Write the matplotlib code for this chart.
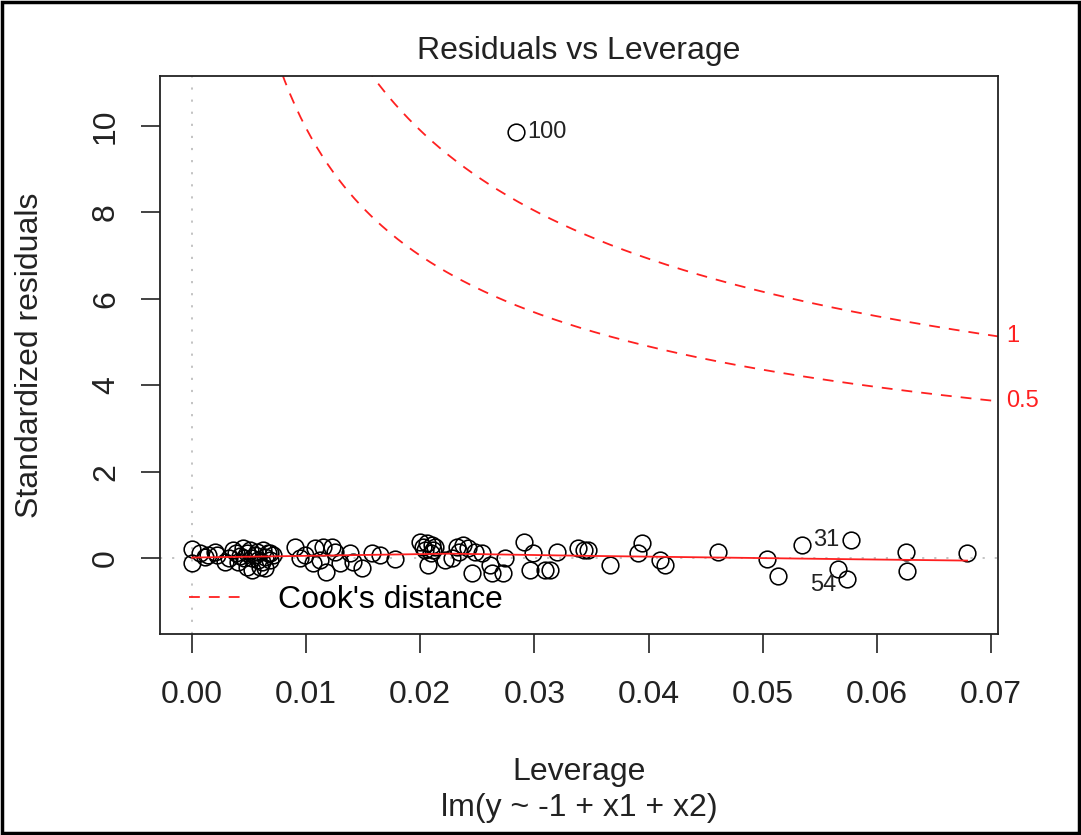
import numpy as np
import matplotlib
matplotlib.use("Agg")
import matplotlib.pyplot as plt
from matplotlib.patches import Rectangle

plt.rcParams['font.family'] = ['Liberation Sans', 'DejaVu Sans']

# Leverage (hat values) and standardized residuals of the fitted model
leverage = [
    0.0000, 0.0000, 0.0011, 0.0014, 0.0020, 0.0022, 0.0029, 0.0032, 0.0036, 0.0039,
    0.0040, 0.0045, 0.0048, 0.0048, 0.0051, 0.0053, 0.0053, 0.0057, 0.0058, 0.0060,
    0.0062, 0.0064, 0.0064, 0.0067, 0.0068, 0.0071, 0.0090, 0.0099, 0.0106, 0.0108,
    0.0112, 0.0115, 0.0117, 0.0123, 0.0125, 0.0130, 0.0138, 0.0141, 0.0149, 0.0158,
    0.0165, 0.0178, 0.0200, 0.0206, 0.0210, 0.0202, 0.0211, 0.0207, 0.0209, 0.0222,
    0.0228, 0.0232, 0.0237, 0.0242, 0.0248, 0.0254, 0.0245, 0.0261, 0.0263, 0.0272,
    0.0274, 0.0291, 0.0299, 0.0296, 0.0309, 0.0314, 0.0320, 0.0338, 0.0343, 0.0347,
    0.0366, 0.0394, 0.0391, 0.0410, 0.0414, 0.0461, 0.0504, 0.0513, 0.0534, 0.0566,
    0.0574, 0.0577, 0.0625, 0.0626, 0.0679, 0.0284, 0.0046, 0.0055, 0.0061, 0.0068,
    0.0042, 0.0204, 0.0213, 0.0007, 0.0234, 0.0095,
]
std_resid = [
    0.21, -0.12, 0.02, 0.07, 0.14, 0.07, -0.09, 0.00, 0.19, 0.12,
    -0.09, 0.23, 0.12, -0.21, 0.19, 0.00, -0.28, 0.14, -0.05, -0.21,
    0.19, 0.02, -0.23, 0.12, -0.05, 0.07, 0.25, 0.07, -0.12, 0.23,
    -0.05, 0.25, -0.32, 0.25, 0.14, -0.12, 0.12, -0.09, -0.23, 0.12,
    0.07, -0.02, 0.37, 0.35, 0.30, 0.25, 0.19, -0.16, 0.12, -0.05,
    0.00, 0.25, 0.30, 0.23, 0.14, 0.12, -0.35, -0.16, -0.35, -0.35,
    0.00, 0.37, 0.12, -0.28, -0.28, -0.28, 0.14, 0.23, 0.19, 0.19,
    -0.16, 0.35, 0.12, -0.05, -0.16, 0.14, -0.02, -0.42, 0.30, -0.25,
    -0.49, 0.42, 0.14, -0.30, 0.12, 9.86, 0.00, 0.07, -0.09, 0.12,
    0.05, 0.19, 0.25, 0.12, 0.14, 0.00,
]

# Observations flagged by id: (label, leverage, residual)
flag_ids = ["100", "31", "54"]
flag_lev = [0.0284, 0.0577, 0.0574]
flag_res = [9.86, 0.42, -0.49]

# Smoothed trend of residuals over leverage
smooth_lev = [0.0000, 0.0100, 0.0226, 0.0344, 0.0463, 0.0581, 0.0679]
smooth_res = [0.01, 0.05, 0.10, 0.05, 0.01, -0.03, -0.06]

# Cook's distance contour levels, number of model parameters
cook_levels = [0.5, 1.0]
n_params = 2

x_ticks = [0.00, 0.01, 0.02, 0.03, 0.04, 0.05, 0.06, 0.07]
x_ticklabels = ["0.00", "0.01", "0.02", "0.03", "0.04", "0.05", "0.06", "0.07"]
y_ticks = [0, 2, 4, 6, 8, 10]
y_ticklabels = ["0", "2", "4", "6", "8", "10"]

W, H = 1081, 835
fig = plt.figure(figsize=(W / 100, H / 100), dpi=100)
fig.patch.set_facecolor("white")

L, R, B, T = 160, 998, 634, 76
ax = fig.add_axes([L / W, 1 - B / H, (R - L) / W, (B - T) / H])
xlim = (-0.0028, 0.0706)
ylim = (-1.76, 11.16)
ax.set_xlim(*xlim)
ax.set_ylim(*ylim)

FS = 23
RED = "#FF2020"
DASH = (0, (6, 5))

# reference lines at zero
ax.axhline(0, color="#BEBEBE", lw=1.3, ls=(0, (1.2, 5.5)), zorder=1)
ax.axvline(0, color="#BEBEBE", lw=1.3, ls=(0, (1.2, 5.5)), zorder=1)

# points
ax.plot(leverage, std_resid, "o", mfc="none", mec="black", ms=12, mew=1.15,
        zorder=3, clip_on=False)

# smoother
ax.plot(smooth_lev, smooth_res, color=RED, lw=1.3, zorder=4)

# Cook's distance contours
hh = np.linspace(min(leverage) + 1e-4, xlim[1], 300)
for lvl in cook_levels:
    cl = np.sqrt(lvl * n_params * (1 - hh) / hh)
    ax.plot(hh, cl, color=RED, lw=1.3, ls=DASH, zorder=2)
    ax.plot(hh, -cl, color=RED, lw=1.3, ls=DASH, zorder=2)
    yr = np.sqrt(lvl * n_params * (1 - xlim[1]) / xlim[1])
    ax.annotate("%g" % lvl, (xlim[1], yr), xytext=(6, 0), textcoords="offset points",
                color=RED, fontsize=17, ha="left", va="center",
                annotation_clip=False)

# id labels
for lab, lx, ly in zip(flag_ids, flag_lev, flag_res):
    if lx > (xlim[0] + xlim[1]) / 2:
        dx, ha = -8, "right"
    else:
        dx, ha = 8, "left"
    dy = -4 if ly < 0 else 0
    ax.annotate(lab, (lx, ly), xytext=(dx, dy), textcoords="offset points",
                ha=ha, va="center", fontsize=17, color="#222222")

# legend
leg = ax.legend([plt.Line2D([], [], color=RED, lw=1.3, ls=DASH)],
                ["Cook's distance"], loc="lower left", frameon=False,
                fontsize=FS, handlelength=1.75, handletextpad=1.05,
                borderaxespad=0.5, bbox_to_anchor=(0.0, -0.018))

# axes styling
for sp in ax.spines.values():
    sp.set_linewidth(1.3)
    sp.set_color("#222222")
ax.set_xticks(x_ticks)
ax.set_xticklabels(x_ticklabels)
ax.set_yticks(y_ticks)
ax.set_yticklabels(y_ticklabels, rotation=90, va="center")
ax.tick_params(axis="both", direction="out", length=14, width=1.2,
               color="#222222", labelsize=FS, labelcolor="#222222")
ax.tick_params(axis="x", pad=19)
ax.tick_params(axis="y", pad=14)

# titles and axis captions
cx = (L + R) / 2 / W
fig.text(cx, 1 - 51 / H, "Residuals vs Leverage", ha="center", va="center",
         fontsize=FS, color="#222222")
fig.text(cx, 1 - 772 / H, "Leverage", ha="center", va="center",
         fontsize=FS, color="#222222")
fig.text(cx, 1 - 808 / H, "lm(y ~ -1 + x1 + x2)", ha="center", va="center",
         fontsize=FS, color="#222222")
fig.text(30 / W, 1 - ((T + B) / 2) / H, "Standardized residuals", ha="center",
         va="center", rotation=90, fontsize=FS, color="#222222")

# outer frame
fig.patches.append(Rectangle((0.0015, 0.002), 0.997, 0.996, transform=fig.transFigure,
                             fill=False, edgecolor="black", lw=2.5))

fig.savefig("out.png", dpi=100)
